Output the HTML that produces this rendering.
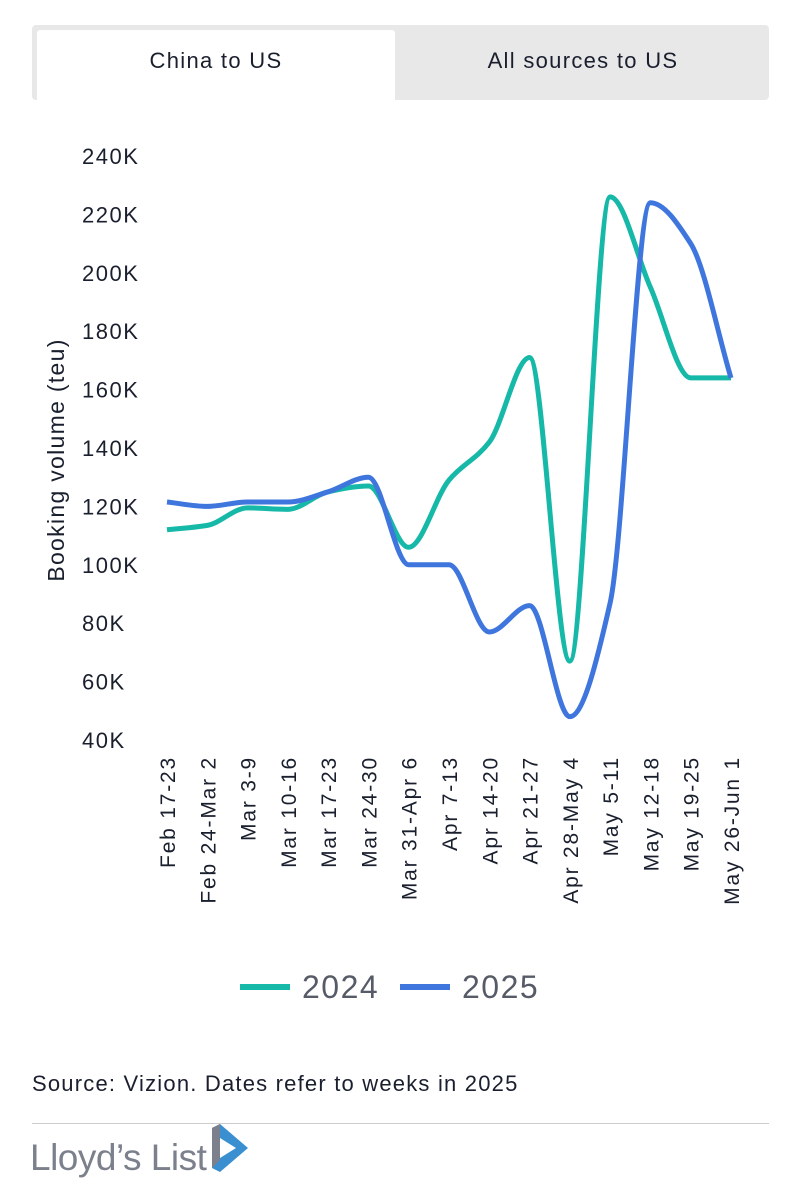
<!DOCTYPE html>
<html><head><meta charset="utf-8">
<style>
body{margin:0;width:799px;height:1200px;background:#fff;font-family:"Liberation Sans",sans-serif;position:relative;overflow:hidden}
.tabs{position:absolute;left:32px;top:25px;width:737px;height:75px;background:#e8e8e8;border-radius:4px}
.tab{position:absolute;top:5px;height:70px;line-height:62px;text-align:center;font-size:22px;letter-spacing:1.3px;color:#1a1f2e}
</style></head><body>
<div class="tabs">
<div class="tab" style="left:5px;width:358px;background:#fff;border-radius:3px 3px 0 0">China to US</div>
<div class="tab" style="left:370px;width:362px">All sources to US</div>
</div>
<svg id="chart" width="799" height="1200" style="position:absolute;left:0;top:0"></svg>
<div style="position:absolute;left:32px;top:1071px;font-size:22px;letter-spacing:1.2px;color:#1a1f2e">Source: Vizion. Dates refer to weeks in 2025</div>
<div style="position:absolute;left:32px;top:1123px;width:737px;height:1px;background:#ccc"></div>
<div style="position:absolute;left:30px;top:1137px;font-size:37px;color:#7b808c;letter-spacing:-0.5px">Lloyd’s List</div>
<svg style="position:absolute;left:208px;top:1124px" width="44" height="52">
<polygon points="4,4 12,0 40,24 12,48 4,44 4,12" fill="#3a8fd0"/>
<polygon points="4,4 12,0 12,36 4,44" fill="#7b808c"/>
<polygon points="12,14 28,24 12,34" fill="#fff"/>
</svg>
<script>
const categories=["Feb 17-23","Feb 24-Mar 2","Mar 3-9","Mar 10-16","Mar 17-23","Mar 24-30","Mar 31-Apr 6","Apr 7-13","Apr 14-20","Apr 21-27","Apr 28-May 4","May 5-11","May 12-18","May 19-25","May 26-Jun 1"];
const series2024=[112,113.5,119.5,119,125,127,106,129,142,171,67,226,195,164,164];
const series2025=[121.5,120,121.5,121.5,125,130,100,100,77,86,48,87,224,210,164];
const yTicks=[40,60,80,100,120,140,160,180,200,220,240];
const NS="http://www.w3.org/2000/svg";
const svg=document.getElementById('chart');
const x=i=>167+i*(731-167)/(categories.length-1);
const y=v=>740-(v-40)*584/200;
function mk(t,a,txt){const e=document.createElementNS(NS,t);for(const k in a)e.setAttribute(k,a[k]);if(txt)e.textContent=txt;svg.appendChild(e);return e;}
yTicks.forEach(v=>{const e=mk('text',{x:82,y:y(v)+8,'font-size':22,'letter-spacing':1.5,fill:'#1a1f2e'},v+'K');

});
const t=mk('text',{transform:'translate(64,460) rotate(-90)','text-anchor':'middle','font-size':23,'letter-spacing':1.3,fill:'#1a1f2e'},'Booking volume (teu)');


categories.forEach((c,i)=>{const e=mk('text',{transform:`translate(${x(i)+8},756) rotate(-90)`,'text-anchor':'end','font-size':21,'letter-spacing':1.8,fill:'#1a1f2e'},c);

});
function monotone(pts){const n=pts.length,d=[],m=[];
for(let i=0;i<n-1;i++)d.push((pts[i+1][1]-pts[i][1])/(pts[i+1][0]-pts[i][0]));
m[0]=d[0];m[n-1]=d[n-2];
for(let i=1;i<n-1;i++){m[i]=(d[i-1]*d[i]<=0)?0:2/(1/d[i-1]+1/d[i]);}
let s=`M${pts[0][0]},${pts[0][1]}`;
for(let i=0;i<n-1;i++){const h=(pts[i+1][0]-pts[i][0])/3;
s+=`C${pts[i][0]+h},${pts[i][1]+m[i]*h} ${pts[i+1][0]-h},${pts[i+1][1]-m[i+1]*h} ${pts[i+1][0]},${pts[i+1][1]}`;}
return s;}
const l1=mk('path',{d:monotone(series2024.map((v,i)=>[x(i),y(v)])),fill:'none',stroke:'#16b8a8','stroke-width':5});


const l2=mk('path',{d:monotone(series2025.map((v,i)=>[x(i),y(v)])),fill:'none',stroke:'#3f76de','stroke-width':5});


[[240,'#16b8a8','2024'],[400,'#3f76de','2025']].forEach(([lx,col,lab])=>{
const ln=mk('line',{x1:lx,x2:lx+50,y1:987,y2:987,stroke:col,'stroke-width':6});


const tx=mk('text',{x:lx+62,y:998,'font-size':32,'letter-spacing':1.5,fill:'#565b67'},lab);

});
</script>
</body></html>
